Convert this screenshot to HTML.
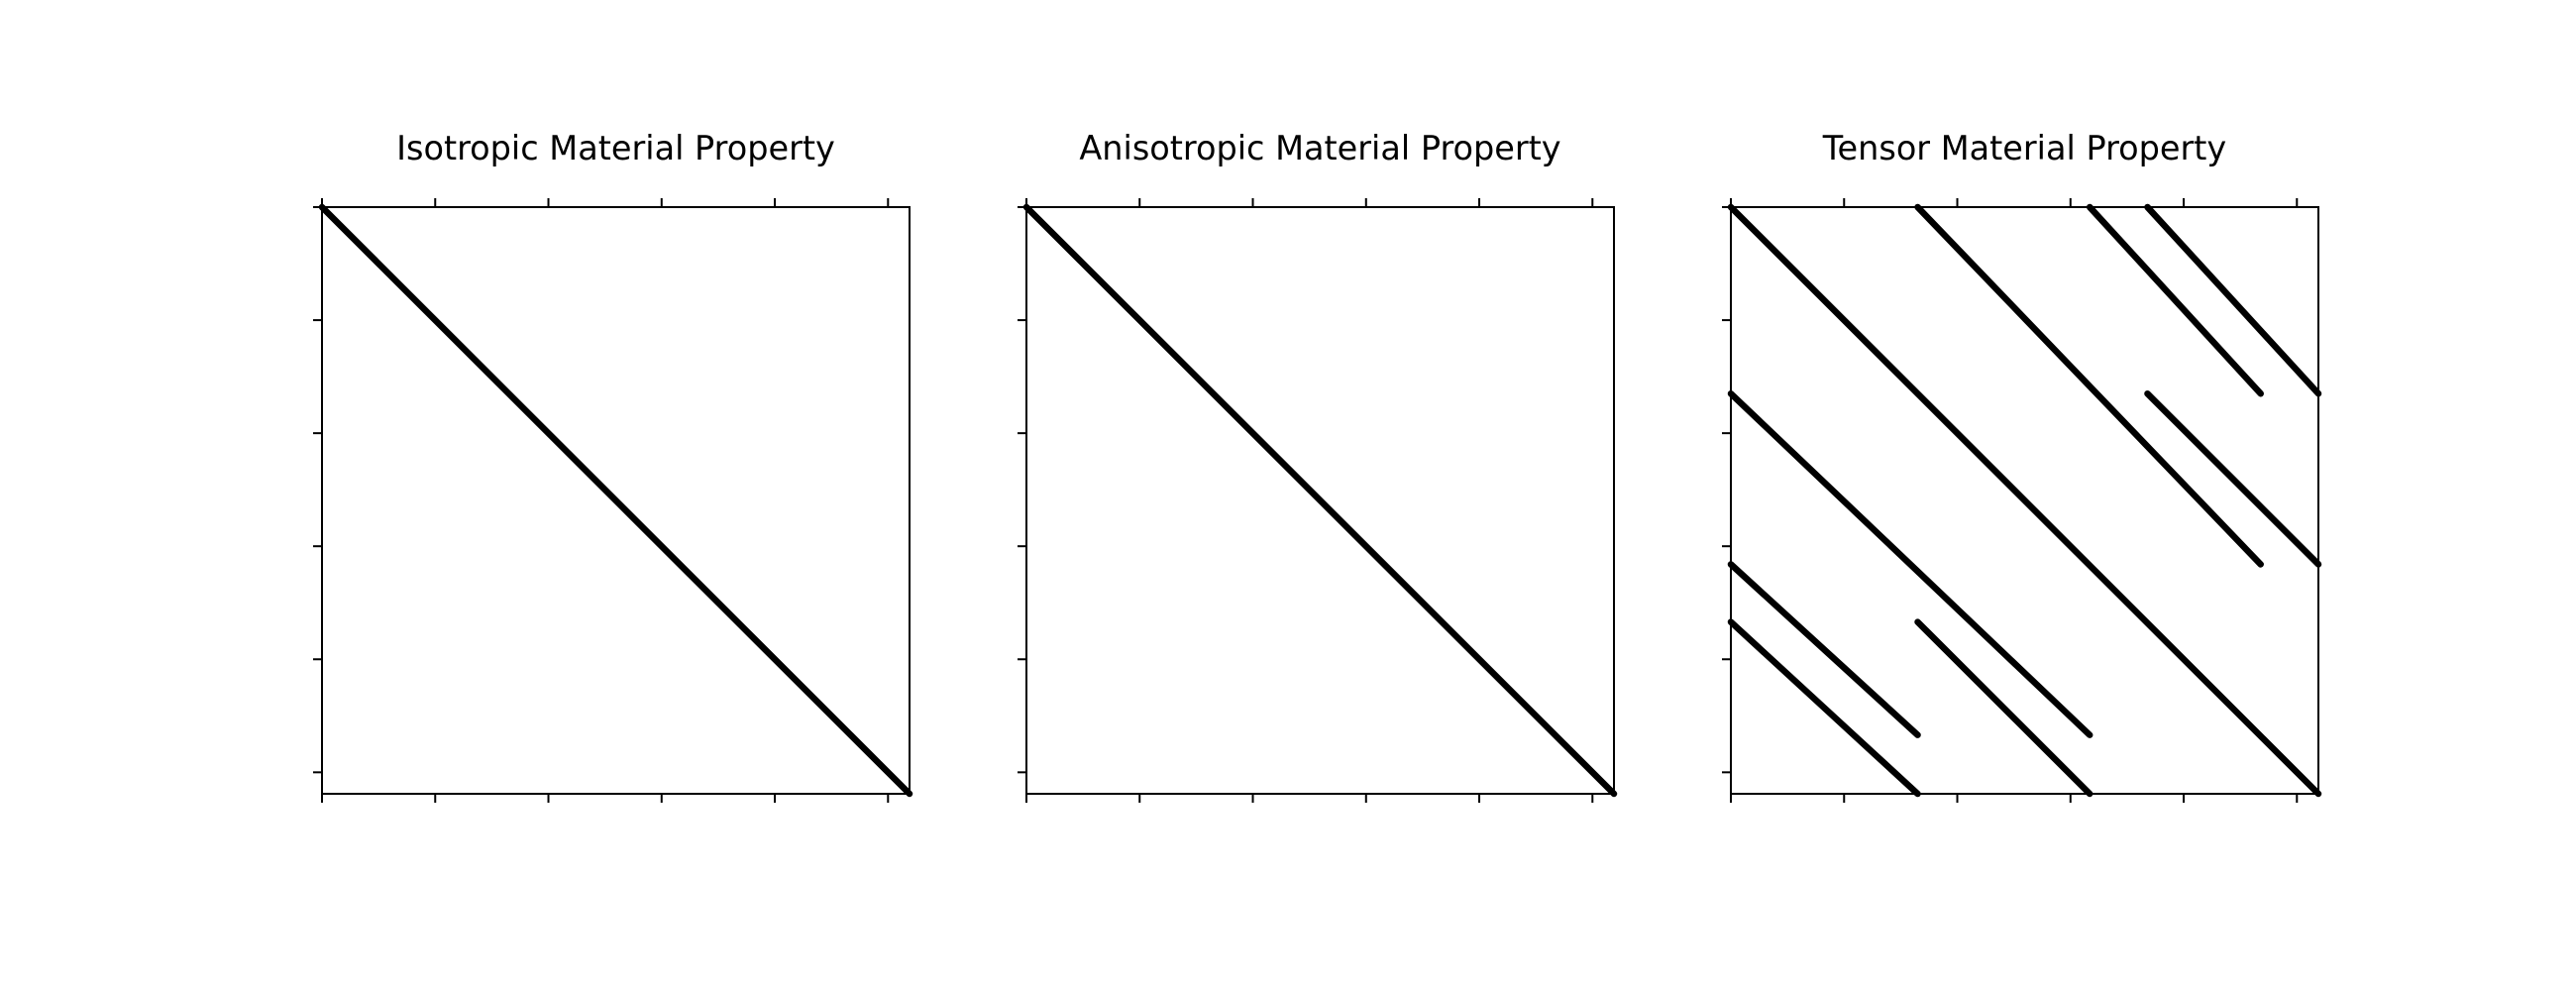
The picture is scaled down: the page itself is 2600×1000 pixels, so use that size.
<!DOCTYPE html>
<html><head><meta charset="utf-8"><style>
html,body{margin:0;padding:0;background:#fff;}
svg{display:block;}
</style></head><body>
<svg id="fig" width="2600" height="1000" viewBox="0 0 2600 1000" xmlns="http://www.w3.org/2000/svg" font-family="'DejaVu Sans','Liberation Sans',sans-serif"></svg>
<script>
const titles = ["Isotropic Material Property","Anisotropic Material Property","Tensor Material Property"];
const ticks = [0,10,20,30,40,50];
const nSize = 51.9;
// segments: [rowStart,colStart,rowEnd,colEnd] in matrix units
const isoSegs = [[0,0,51.9,51.9]];
const anisoSegs = [[0,0,51.9,51.9]];
const tensorSegs = [
 [0,0,51.9,51.9],
 [0,16.5,31.6,46.8],
 [0,31.7,16.5,46.8],
 [0,36.8,16.5,51.9],
 [16.5,36.8,31.6,51.9],
 [16.5,0,46.7,31.7],
 [31.6,0,46.7,16.5],
 [36.7,0,51.9,16.5],
 [36.7,16.5,51.9,31.7]
];
const allSegs = [isoSegs, anisoSegs, tensorSegs];
const panelX = [325, 1036, 1747];
const panelY = 209, panelW = 593, panelH = 592;
const svg = document.getElementById('fig');
const NS = "http://www.w3.org/2000/svg";
function mk(tag, attrs){const e=document.createElementNS(NS,tag);for(const k in attrs)e.setAttribute(k,attrs[k]);svg.appendChild(e);return e;}
allSegs.forEach((segs,p)=>{
  const x0 = panelX[p];
  const sx = v => x0 + v/nSize*panelW;
  const sy = v => panelY + v/nSize*panelH;
  const t = mk('text',{x:x0+panelW/2,y:161,'text-anchor':'middle','font-size':'33.5'});
  t.textContent = titles[p];
  
  
  segs.forEach((s,i)=>{
    const l = mk('line',{x1:sx(s[1]),y1:sy(s[0]),x2:sx(s[3]),y2:sy(s[2]),stroke:'#000','stroke-width':6.5,'stroke-linecap':'round'});
    
    
  });
  ticks.forEach(tv=>{
    const tx = mk('line',{x1:sx(tv),x2:sx(tv),y1:panelY,y2:panelY-9,stroke:'#000','stroke-width':2});
    
    
    const bx = mk('line',{x1:sx(tv),x2:sx(tv),y1:panelY+panelH,y2:panelY+panelH+9,stroke:'#000','stroke-width':2});
    
    
    const ty = mk('line',{x1:x0,x2:x0-9,y1:sy(tv),y2:sy(tv),stroke:'#000','stroke-width':2});
    
    
  });
  const r = mk('rect',{x:x0,y:panelY,width:panelW,height:panelH,fill:'none',stroke:'#000','stroke-width':2});
  
  
});
</script>
</body></html>
